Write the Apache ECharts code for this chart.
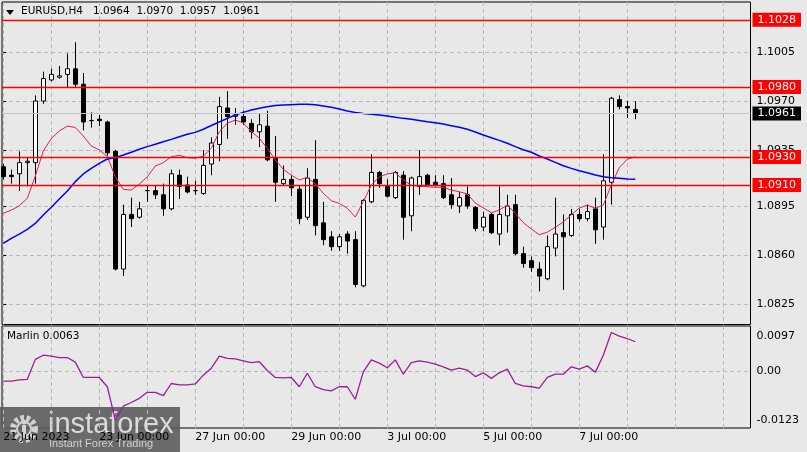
<!DOCTYPE html>
<html><head><meta charset="utf-8">
<script src="https://cdn.jsdelivr.net/npm/echarts@6/dist/echarts.min.js"></script>
<style>html,body{margin:0;padding:0;background:#e8e8e8;}#c{width:807px;height:452px;}</style>
</head><body><div id="c"></div>
<script>
const symbolName = 'EURUSD,H4';
const open = [1.0923,1.0917,1.0918,1.0926,1.0926,1.0970,1.0985,1.0987,1.0989,1.0993,
1.0982,1.0956,1.0957,1.0955,1.0934,1.0850,1.0889,1.0887,1.0906,1.0906,
1.0903,1.0893,1.0917,1.0910,1.0906,1.0904,1.0925,1.0939,1.0965,1.0959,
1.0959,1.0954,1.0948,1.0952,1.0929,1.0911,1.0914,1.0907,1.0887,1.0914,
1.0883,1.0873,1.0866,1.0875,1.0871,1.0838,1.0898,1.0919,1.0909,1.0901,
1.0917,1.0888,1.0909,1.0917,1.0912,1.0911,1.0903,1.0895,1.0903,1.0894,
1.0880,1.0889,1.0875,1.0888,1.0896,1.0861,1.0856,1.0850,1.0843,1.0865,
1.0876,1.0874,1.0889,1.0886,1.0893,1.0880,1.0912,1.0971,1.0966,1.0964];
const close = [1.0916,1.0916,1.0926,1.0927,1.0970,1.0986,1.0989,1.0988,1.0993,1.0982,
1.0955,1.0956,1.0956,1.0933,1.0850,1.0889,1.0886,1.0893,1.0906,1.0903,
1.0893,1.0918,1.0909,1.0905,1.0906,1.0924,1.0940,1.0966,1.0959,1.0960,
1.0955,1.0948,1.0953,1.0928,1.0912,1.0914,1.0908,1.0886,1.0915,1.0881,
1.0871,1.0866,1.0873,1.0870,1.0839,1.0899,1.0919,1.0911,1.0902,1.0919,
1.0887,1.0915,1.0916,1.0910,1.0910,1.0901,1.0896,1.0901,1.0895,1.0879,
1.0887,1.0876,1.0889,1.0895,1.0861,1.0854,1.0851,1.0845,1.0866,1.0875,
1.0873,1.0889,1.0886,1.0891,1.0878,1.0913,1.0972,1.0966,1.0965,1.0961];
const high = [1.0925,1.0921,1.0934,1.0930,1.0974,1.0991,1.0993,1.0995,1.1004,1.1012,
1.0990,1.0962,1.0960,1.0956,1.0935,1.0896,1.0901,1.0898,1.0910,1.0910,
1.0911,1.0921,1.0921,1.0916,1.0913,1.0935,1.0944,1.0973,1.0977,1.0965,
1.0963,1.0957,1.0961,1.0963,1.0945,1.0924,1.0917,1.0910,1.0922,1.0942,
1.0898,1.0877,1.0875,1.0877,1.0877,1.0900,1.0932,1.0920,1.0914,1.0920,
1.0920,1.0916,1.0935,1.0918,1.0917,1.0917,1.0915,1.0905,1.0909,1.0895,
1.0891,1.0890,1.0909,1.0903,1.0903,1.0866,1.0859,1.0855,1.0874,1.0901,
1.0889,1.0893,1.0893,1.0896,1.0901,1.0932,1.0973,1.0974,1.0970,1.0970];
const low = [1.0914,1.0911,1.0906,1.0909,1.0911,1.0968,1.0984,1.0986,1.0980,1.0980,
1.0949,1.0951,1.0952,1.0931,1.0849,1.0845,1.0880,1.0886,1.0898,1.0900,
1.0888,1.0892,1.0900,1.0904,1.0903,1.0903,1.0917,1.0927,1.0943,1.0953,
1.0953,1.0943,1.0937,1.0927,1.0898,1.0910,1.0902,1.0882,1.0885,1.0874,
1.0867,1.0863,1.0863,1.0861,1.0837,1.0837,1.0897,1.0908,1.0901,1.0900,
1.0871,1.0877,1.0903,1.0909,1.0909,1.0900,1.0893,1.0890,1.0893,1.0877,
1.0877,1.0875,1.0867,1.0876,1.0860,1.0851,1.0848,1.0834,1.0842,1.0859,
1.0835,1.0873,1.0884,1.0884,1.0868,1.0871,1.0896,1.0964,1.0958,1.0957];
const maFast = [1.08898,1.08921,1.08952,1.09005,1.09164,1.09343,1.09432,1.09486,1.09521,1.09511,
1.09450,1.09379,1.09350,1.09304,1.09159,1.09069,1.09064,1.09107,1.09159,1.09236,
1.09259,1.09302,1.09312,1.09295,1.09291,1.09307,1.09362,1.09481,1.09541,1.09564,
1.09543,1.09481,1.09434,1.09362,1.09279,1.09212,1.09171,1.09136,1.09155,1.09107,
1.09041,1.08988,1.08969,1.08934,1.08871,1.08981,1.09100,1.09159,1.09179,1.09188,
1.09136,1.09098,1.09093,1.09088,1.09084,1.09084,1.09064,1.09052,1.09036,1.08971,
1.08937,1.08902,1.08921,1.08957,1.08898,1.08831,1.08786,1.08745,1.08763,1.08799,
1.08836,1.08888,1.08936,1.08957,1.08934,1.08957,1.09100,1.09225,1.09284,1.09302];
const maSlow = [1.08684,1.08719,1.08750,1.08784,1.08826,1.08886,1.08941,1.09000,1.09057,1.09124,
1.09179,1.09219,1.09255,1.09286,1.09295,1.09314,1.09334,1.09355,1.09374,1.09391,
1.09409,1.09426,1.09445,1.09462,1.09476,1.09498,1.09525,1.09550,1.09576,1.09600,
1.09619,1.09636,1.09648,1.09659,1.09668,1.09671,1.09674,1.09676,1.09676,1.09673,
1.09664,1.09655,1.09643,1.09629,1.09618,1.09611,1.09605,1.09600,1.09593,1.09584,
1.09576,1.09569,1.09561,1.09552,1.09545,1.09536,1.09524,1.09512,1.09498,1.09479,
1.09457,1.09438,1.09419,1.09398,1.09374,1.09352,1.09334,1.09307,1.09286,1.09262,
1.09238,1.09219,1.09202,1.09188,1.09171,1.09159,1.09152,1.09148,1.09143,1.09141];
const marlin = [-0.0022,-0.0022,-0.0019,-0.0018,0.0025,0.0034,0.0032,0.0029,0.0029,0.0019,
-0.0014,-0.0014,-0.0014,-0.0034,-0.0106,-0.0076,-0.0068,-0.0059,-0.0046,-0.0046,
-0.0053,-0.0027,-0.0030,-0.0030,-0.0028,-0.0009,0.0006,0.0032,0.0027,0.0026,
0.0022,0.0018,0.0020,0.0001,-0.0014,-0.0015,-0.0014,-0.0034,-0.0005,-0.0034,
-0.0040,-0.0043,-0.0034,-0.0034,-0.0061,-0.0002,0.0024,0.0017,0.0007,0.0024,
-0.0007,0.0018,0.0022,0.0019,0.0015,0.0009,0.0002,0.0006,0.0002,-0.0012,
-0.0004,-0.0016,-0.0004,0.0004,-0.0027,-0.0032,-0.0034,-0.0037,-0.0014,-0.0007,
-0.0007,0.0009,0.0004,0.0011,-0.0003,0.0034,0.0083,0.0075,0.0070,0.0063];
const levels = [1.1028, 1.0980, 1.0930, 1.0910];
const priceTicks = [1.1005, 1.0970, 1.0935, 1.0895, 1.0860, 1.0825];
const marlinTicks = [0.0097, 0, -0.0123];
const timeTickBars = [0, 12, 24, 36, 48, 60, 72];
const timeTickLabels = ['21 Jun 2023','23 Jun 00:00','27 Jun 00:00','29 Jun 00:00','3 Jul 00:00','5 Jul 00:00','7 Jul 00:00'];
const dayGridBars = [0,6,12,18,24,30,36,42,48,54,60,66,72,78,84,90];

const FONT = 'DejaVu Sans';
const last = close.length - 1;
const candles = open.map((o, i) => [i, o, close[i], low[i], high[i]]);
const fastLine = maFast.map((v, i) => [i, v]);
const slowLine = maSlow.map((v, i) => [i, v]);
const marlinLine = marlin.map((v, i) => [i, v]);
const titleText = symbolName + '   ' + [open[last], high[last], low[last], close[last]].map(v => v.toFixed(4)).join('  ');

const gridDash = {color: '#b9b9b9', type: [4, 3], width: 1};
function xAxisFor(gi, withLabels) {
  return {
    gridIndex: gi, type: 'value', min: -0.1625, max: 93.4,
    axisLine: {show: false},
    axisTick: {show: false, customValues: dayGridBars},
    splitLine: {show: true, lineStyle: gridDash},
    axisLabel: withLabels ? {
      show: true, customValues: timeTickBars,
      formatter: v => { const k = timeTickBars.indexOf(Math.round(v)); return k >= 0 ? timeTickLabels[k] : ''; },
      align: 'left', margin: 4, color: '#000', fontFamily: FONT, fontSize: 11
    } : {show: false}
  };
}

const chart = echarts.init(document.getElementById('c'), null, {renderer: 'canvas'});
chart.setOption({
  animation: false,
  backgroundColor: '#e8e8e8',
  grid: [
    {left: 2, top: 2, width: 748.5, height: 322.5, show: true, borderColor: '#000', borderWidth: 1, backgroundColor: 'transparent'},
    {left: 2, top: 326, width: 748.5, height: 102, show: true, borderColor: '#000', borderWidth: 1, backgroundColor: 'transparent'}
  ],
  xAxis: [xAxisFor(0, false), xAxisFor(1, true)],
  yAxis: [
    {
      gridIndex: 0, type: 'value', position: 'right', min: 1.08104, max: 1.10407, scale: true,
      axisLine: {show: false},
      axisTick: {show: true, customValues: priceTicks, length: 3, lineStyle: {color: '#000'}},
      axisLabel: {customValues: priceTicks, formatter: v => v.toFixed(4), margin: 6, color: '#000', fontFamily: FONT, fontSize: 11},
      splitLine: {show: true, lineStyle: gridDash}
    },
    {
      gridIndex: 1, type: 'value', position: 'right', min: -0.0123, max: 0.0097,
      axisLine: {show: false},
      axisTick: {show: false, customValues: [0]},
      axisLabel: {
        customValues: marlinTicks, margin: 6, color: '#000', fontFamily: FONT, fontSize: 11,
        showMinLabel: true, showMaxLabel: true,
        formatter: v => v === 0 ? '{z|0.00}' : (v > 0 ? '{t|' + v.toFixed(4) + '}' : '{b|' + v.toFixed(4) + '}'),
        rich: {
          z: {fontFamily: FONT, fontSize: 11, color: '#000'},
          t: {fontFamily: FONT, fontSize: 11, color: '#000', padding: [20, 0, 0, 0]},
          b: {fontFamily: FONT, fontSize: 11, color: '#000', padding: [0, 0, 16, 0]}
        }
      },
      splitLine: {show: true, lineStyle: gridDash}
    }
  ],
  series: [
    {
      type: 'candlestick', xAxisIndex: 0, yAxisIndex: 0, data: candles, barWidth: 5,
      itemStyle: {color: '#ffffff', color0: '#000000', borderColor: '#000000', borderColor0: '#000000', borderWidth: 1},
      markLine: {
        silent: true, symbol: ['none', 'none'], animation: false, precision: 4,
        data: [
          {yAxis: close[last], lineStyle: {color: '#c4c4c4', width: 1, type: 'solid'},
           label: {backgroundColor: '#000', color: '#fff'}}
        ].concat(levels.map(v => ({yAxis: v}))),
        lineStyle: {color: '#ff0000', width: 1.4, type: 'solid'},
        label: {
          show: true, position: 'end', distance: 2, formatter: p => Number(p.value).toFixed(4),
          backgroundColor: '#ff0000', color: '#ffffff', padding: [1, 5, 1, 5], lineHeight: 12,
          fontFamily: FONT, fontSize: 11
        }
      }
    },
    {type: 'line', xAxisIndex: 0, yAxisIndex: 0, data: fastLine, showSymbol: false, symbol: 'none',
     lineStyle: {color: '#e0204a', width: 1}, z: 3},
    {type: 'line', xAxisIndex: 0, yAxisIndex: 0, data: slowLine, showSymbol: false, symbol: 'none',
     lineStyle: {color: '#0000ff', width: 1.5}, z: 3},
    {type: 'line', xAxisIndex: 1, yAxisIndex: 1, data: marlinLine, showSymbol: false, symbol: 'none',
     lineStyle: {color: '#9c1c9c', width: 1.3}, z: 3}
  ],
  graphic: [
    {type: 'polygon', shape: {points: [[6, 10], [14, 10], [10, 15]]}, style: {fill: '#000'}, z: 10},
    {type: 'text', left: 21, top: 6, style: {text: titleText, font: '10.5px "DejaVu Sans"', fill: '#000'}, z: 10},
    {type: 'text', left: 7, top: 331, style: {text: 'Marlin ' + marlin[last].toFixed(4), font: '10.5px "DejaVu Sans"', fill: '#000'}, z: 10},
    {type: 'group', left: 0, top: 407, z: 20, children: [
      {type: 'rect', shape: {x: 0, y: 0, width: 180, height: 45}, style: {fill: 'rgba(92,92,92,0.9)'}},
      {type: 'circle', shape: {cx: 24, cy: 22, r: 11}, style: {fill: 'none', stroke: '#d2d2d2', lineWidth: 6, lineDash: [3.5, 2.5]}},
      {type: 'circle', shape: {cx: 24, cy: 22, r: 7}, style: {fill: 'none', stroke: '#d2d2d2', lineWidth: 2}},
      {type: 'rect', shape: {x: 22, y: 18, width: 4, height: 13}, style: {fill: '#d2d2d2'}},
      {type: 'circle', shape: {cx: 24, cy: 15, r: 2.5}, style: {fill: '#d2d2d2'}},
      {type: 'text', style: {x: 48, y: 18, text: 'instaforex', font: '29px "Liberation Sans"', fill: '#dadada', verticalAlign: 'middle'}},
      {type: 'text', style: {x: 49, y: 37, text: 'Instant Forex Trading', font: '11px "Liberation Sans"', fill: '#d0d0d0', verticalAlign: 'middle'}}
    ]}
  ]
});
</script></body></html>
